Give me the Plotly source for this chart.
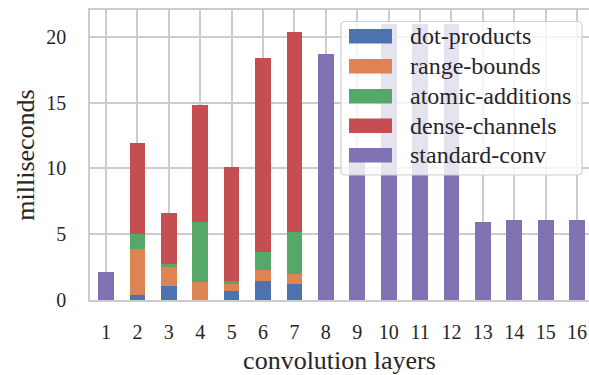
import plotly.graph_objects as go

layers = list(range(1, 17))
tick_labels = [str(i) for i in layers]

dot_products = [0, 0.38, 1.04, 0, 0.66, 1.42, 1.20, 0, 0, 0, 0, 0, 0, 0, 0, 0]
range_bounds = [0, 3.48, 1.45, 1.37, 0.54, 0.86, 0.76, 0, 0, 0, 0, 0, 0, 0, 0, 0]
atomic_additions = [0, 1.14, 0.23, 4.57, 0.22, 1.38, 3.20, 0, 0, 0, 0, 0, 0, 0, 0, 0]
dense_channels = [0, 6.94, 3.88, 8.89, 8.68, 14.75, 15.23, 0, 0, 0, 0, 0, 0, 0, 0, 0]
standard_conv = [2.10, 0, 0, 0, 0, 0, 0, 18.71, 11.0, 21.0, 21.0, 21.0, 5.92, 6.07, 6.07, 6.07]

series_names = ["dot-products", "range-bounds", "atomic-additions", "dense-channels", "standard-conv"]
series_values = [dot_products, range_bounds, atomic_additions, dense_channels, standard_conv]
colors = ["#4C72B0", "#DD8452", "#55A868", "#C44E52", "#8172B3"]

FONT = "Liberation Serif"
TXT = "#262626"
GRID = "#cccccc"

fig = go.Figure()
for name, vals, col in zip(series_names, series_values, colors):
    fig.add_trace(go.Bar(
        x=layers, y=[v if v > 0 else None for v in vals], name=name,
        marker=dict(color=col, line=dict(width=0)), width=0.5,
    ))

W, H = 589, 375
L, R, T, B = 90, 0, 10, 75
pw, ph = W - L - R, H - T - B

def px(x):
    return (x - L) / pw

def py(y):
    return (H - B - y) / ph

shapes = []
annotations = []
# legend box with rounded corners
x0, x1, y0, y1 = 341, 582, 21.5, 175
r = 4
path = (
    f"M {px(x0 + r)},{py(y0)} L {px(x1 - r)},{py(y0)} "
    f"Q {px(x1)},{py(y0)} {px(x1)},{py(y0 + r)} "
    f"L {px(x1)},{py(y1 - r)} Q {px(x1)},{py(y1)} {px(x1 - r)},{py(y1)} "
    f"L {px(x0 + r)},{py(y1)} Q {px(x0)},{py(y1)} {px(x0)},{py(y1 - r)} "
    f"L {px(x0)},{py(y0 + r)} Q {px(x0)},{py(y0)} {px(x0 + r)},{py(y0)} Z"
)
shapes.append(dict(type="path", xref="paper", yref="paper", path=path,
                   fillcolor="rgba(255,255,255,0.8)", line=dict(color="#d0d0d0", width=1.2),
                   layer="above"))
centers = [36.3, 66.3, 96.3, 125.7, 155.3]
for name, col, cy in zip(series_names, colors, centers):
    shapes.append(dict(type="rect", xref="paper", yref="paper",
                       x0=px(349), x1=px(392), y0=py(cy - 7.3), y1=py(cy + 7.3),
                       fillcolor=col, line=dict(width=0), layer="above"))
    annotations.append(dict(xref="paper", yref="paper", x=px(408), y=py(cy),
                            xanchor="left", yanchor="middle", text=name, showarrow=False,
                            font=dict(family=FONT, size=24, color=TXT)))

fig.update_layout(
    width=W, height=H,
    margin=dict(l=L, r=R, t=T, b=B, pad=0),
    barmode="stack",
    bargap=0,
    showlegend=False,
    plot_bgcolor="white", paper_bgcolor="white",
    font=dict(family=FONT, size=20, color=TXT),
    shapes=shapes, annotations=annotations,
    xaxis=dict(
        range=[0.49, 16.38], tickvals=layers, ticktext=tick_labels,
        showgrid=True, gridcolor=GRID, gridwidth=1.5,
        showline=True, linecolor=GRID, linewidth=1.5, mirror=True,
        ticks="", ticklabelstandoff=13, zeroline=False, automargin=False,
        tickfont=dict(family=FONT, size=20, color=TXT),
        title=dict(text="convolution layers", standoff=24,
                   font=dict(family=FONT, size=26, color=TXT)),
    ),
    yaxis=dict(
        range=[0, 22.05], tickvals=[0, 5, 10, 15, 20],
        showgrid=True, gridcolor=GRID, gridwidth=1.5,
        showline=True, linecolor=GRID, linewidth=1.5,
        ticks="", ticklabelstandoff=18, zeroline=False, automargin=False,
        tickfont=dict(family=FONT, size=20, color=TXT),
        title=dict(text="milliseconds", standoff=4,
                   font=dict(family=FONT, size=26, color=TXT)),
    ),
)

fig.write_html("out.html", config={"displayModeBar": False},
               post_script="document.body.style.margin='0';document.body.style.overflow='hidden';")
